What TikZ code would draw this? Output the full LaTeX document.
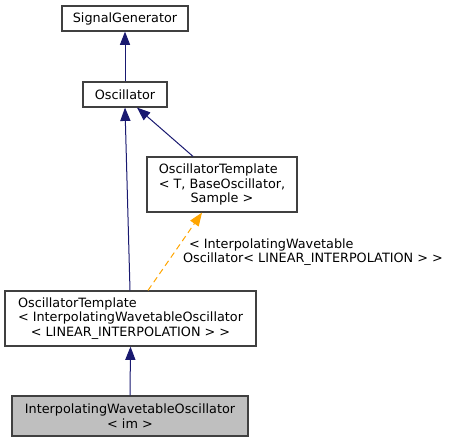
\documentclass[tikz,border=0pt]{standalone}
\usepackage{fontspec}
\setmainfont{DejaVu Sans}
\usetikzlibrary{arrows.meta,calc}

\definecolor{edgeblue}{HTML}{191970}
\definecolor{tmplorange}{HTML}{FFA500}
\definecolor{boxline}{HTML}{404040}
\definecolor{boxgray}{HTML}{BFBFBF}

\newcommand{\lefthead}[2]{\rlap{#1}\phantom{#2}}

\tikzset{
  classbox/.style={draw=boxline,line width=0.9pt,rectangle,inner sep=0pt,align=center,
    font=\fontsize{9.6}{10.9}\selectfont},
  inherit/.style={edgeblue,line width=0.75pt,-{Triangle[length=10pt,width=7.6pt]}},
  tmplarrow/.style={tmplorange,line width=0.75pt,dashed,dash pattern=on 4.5pt off 3pt,
    -{Triangle[length=10pt,width=7.6pt]}}
}

\begin{document}
\begin{tikzpicture}[x=0.75pt,y=-0.75pt]

  \useasboundingbox (0,0) rectangle (456,443);

  % classes
  \node[classbox,minimum width=126*0.75pt,minimum height=25*0.75pt] (sig) at (125,18.5) {SignalGenerator};
  \node[classbox,minimum width=84*0.75pt,minimum height=25*0.75pt] (osc) at (125,94.5) {Oscillator};
  \node[classbox,minimum width=150*0.75pt,minimum height=55*0.75pt] (tmplT) at (222,184.5)
    {\lefthead{OscillatorTemplate}{< T, BaseOscillator,}\\< T, BaseOscillator,\\Sample >};
  \node[classbox,minimum width=251*0.75pt,minimum height=55*0.75pt] (tmplI) at (130.5,318.5)
    {\lefthead{OscillatorTemplate}{< InterpolatingWavetableOscillator}\\< InterpolatingWavetableOscillator\\< LINEAR\_INTERPOLATION > >};
  \node[classbox,fill=boxgray,minimum width=236*0.75pt,minimum height=40*0.75pt] (iwo) at (130,416)
    {InterpolatingWavetableOscillator\\< im >};

  % edges
  \draw[inherit] (osc.north) -- (sig.south);
  \draw[inherit] ($(tmplI.north)+(-0.5,0)$) -- (osc.south);
  \draw[inherit] ($(tmplT.north)+(-29,0)$) -- ($(osc.south)+(12,0)$);
  \draw[tmplarrow] ($(tmplI.north)+(17.5,0)$) -- ($(tmplT.south)+(-20,0)$)
    node[pos=0.52,anchor=west,xshift=1.5pt,yshift=-1.8pt,align=left,text=black,
      font=\fontsize{9.6}{10.9}\selectfont] (targs)
    {\hspace{4.5pt}< InterpolatingWavetable\\Oscillator< LINEAR\_INTERPOLATION > >};
  \draw[inherit] (iwo.north) -- (tmplI.south);

\end{tikzpicture}
\end{document}
